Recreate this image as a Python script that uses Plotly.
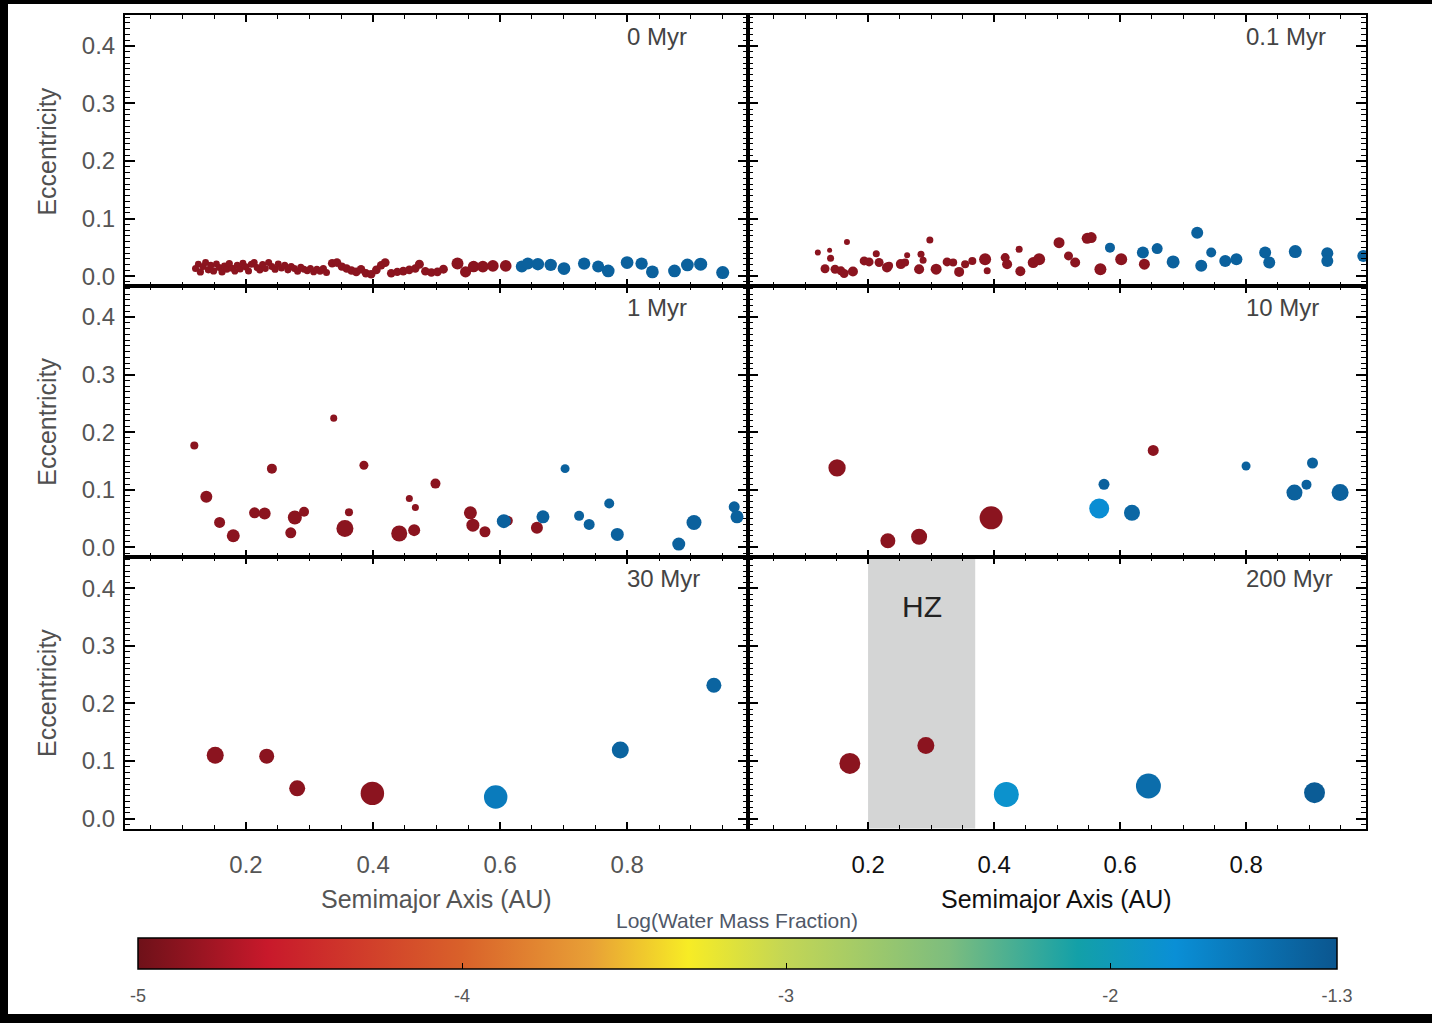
import plotly.graph_objects as go

W, H = 1432, 1023
RED_W = -4.87  # log water mass fraction of dry (red) bodies

# ---------------- 0 Myr ----------------
a0_red = [0.1205,0.1249,0.1281,0.1325,0.1363,0.1407,0.1445,0.1489,0.1534,0.1578,0.1622,0.1660,0.1698,0.1736,0.1780,0.1824,0.1862,0.1907,0.1951,0.1995,0.2039,0.2084,0.2128,0.2172,0.2217,0.2261,0.2305,0.2356,0.2406,0.2457,0.2507,0.2558,0.2609,0.2659,0.2710,0.2760,0.2811,0.2862,0.2912,0.2963,0.3013,0.3064,0.3115,0.3165,0.3216,0.3266,
          0.3355,0.3431,0.3507,0.3583,0.3659,0.3735,0.3810,0.3886,0.3969,0.4051,0.4127,0.4190,0.4285,0.4380,0.4474,0.4569,0.4664,0.4728,0.4822,0.4917,0.5012,0.5107,
          0.5328,0.5455,0.5581,0.5727,0.5885,0.6087]
e0_red = [0.0133,0.0208,0.0075,0.0167,0.0237,0.0110,0.0191,0.0092,0.0214,0.0150,0.0075,0.0179,0.0121,0.0219,0.0139,0.0087,0.0191,0.0127,0.0225,0.0162,0.0092,0.0208,0.0237,0.0150,0.0110,0.0202,0.0133,0.0237,0.0167,0.0121,0.0214,0.0144,0.0191,0.0110,0.0167,0.0133,0.0087,0.0156,0.0121,0.0098,0.0133,0.0075,0.0121,0.0087,0.0133,0.0064,
          0.0225,0.0237,0.0167,0.0133,0.0098,0.0075,0.0121,0.0052,0.0035,0.0110,0.0191,0.0237,0.0052,0.0075,0.0087,0.0110,0.0133,0.0208,0.0087,0.0064,0.0075,0.0121,
          0.0219,0.0075,0.0167,0.0167,0.0179,0.0179]
m0_red = [0.20,0.18,0.22,0.20,0.19,0.21,0.20,0.22,0.18,0.20,0.21,0.19,0.20,0.22,0.20,0.18,0.21,0.20,0.19,0.22,0.20,0.21,0.20,0.19,0.22,0.20,0.18,0.21,0.20,0.22,0.19,0.20,0.21,0.20,0.22,0.19,0.20,0.21,0.20,0.22,0.20,0.19,0.21,0.20,0.22,0.20,
          0.36,0.38,0.34,0.36,0.35,0.38,0.36,0.34,0.36,0.38,0.35,0.40,0.36,0.34,0.38,0.36,0.35,0.42,0.36,0.38,0.36,0.40,
          1.00,0.80,0.88,0.90,0.90,0.92]
a0_blue = [0.6340,0.6435,0.6593,0.6795,0.7004,0.7321,0.7542,0.7700,0.7997,0.8225,0.8395,0.8743,0.8946,0.9155,0.9502]
e0_blue = [0.0167,0.0219,0.0208,0.0196,0.0133,0.0219,0.0167,0.0092,0.0237,0.0219,0.0075,0.0092,0.0196,0.0208,0.0064]
m0_blue = [1.00,1.00,1.10,1.10,1.20,1.10,1.00,1.20,1.20,1.10,1.20,1.20,1.20,1.30,1.30]
w0_blue = [-1.40,-1.40,-1.40,-1.40,-1.40,-1.40,-1.40,-1.40,-1.40,-1.40,-1.40,-1.40,-1.40,-1.40,-1.40]

# ---------------- 0.1 Myr ----------------
a01_red = [0.1203,0.1390,0.1405,0.1317,0.1476,0.1570,0.1620,0.1665,0.1760,0.1938,0.2016,0.2130,0.2175,0.2300,0.2333,0.2520,0.2587,0.2620,0.2810,0.2840,0.2873,0.2980,0.3080,0.3254,0.3350,0.3445,0.3540,0.3654,0.3857,0.3890,0.4175,0.4206,0.4397,0.4416,0.4620,0.4714,0.5030,0.5180,0.5286,0.5476,0.5540,0.5686,0.6016,0.6384]
e01_red = [0.0410,0.0450,0.0310,0.0130,0.0121,0.0093,0.0046,0.0594,0.0080,0.0265,0.0248,0.0390,0.0237,0.0150,0.0180,0.0210,0.0237,0.0364,0.0121,0.0380,0.0277,0.0629,0.0121,0.0248,0.0237,0.0075,0.0208,0.0265,0.0294,0.0093,0.0323,0.0208,0.0468,0.0087,0.0237,0.0294,0.0583,0.0352,0.0237,0.0658,0.0670,0.0121,0.0294,0.0208]
m01_red = [0.125,0.072,0.20,0.42,0.42,0.42,0.42,0.125,0.58,0.42,0.42,0.20,0.42,0.58,0.30,0.58,0.30,0.125,0.58,0.20,0.20,0.20,0.77,0.42,0.30,0.58,0.30,0.30,1.00,0.20,0.42,0.58,0.20,0.58,0.77,1.00,0.77,0.42,0.58,0.77,0.77,1.00,1.00,0.77]
a01_blue = [0.5838,0.6360,0.6587,0.6840,0.7222,0.7286,0.7444,0.7667,0.7844,0.8300,0.8365,0.8778,0.9286,0.9286,0.9857]
e01_blue = [0.0496,0.0410,0.0480,0.0248,0.0756,0.0180,0.0410,0.0265,0.0294,0.0410,0.0237,0.0427,0.0400,0.0265,0.0352]
m01_blue = [0.58,1.00,0.77,1.27,1.00,1.00,0.58,1.00,1.00,1.00,1.00,1.27,1.00,1.00,1.00]
w01_blue = [-1.40,-1.40,-1.40,-1.40,-1.40,-1.40,-1.40,-1.40,-1.40,-1.40,-1.40,-1.40,-1.40,-1.40,-1.40]

# ---------------- 1 Myr ----------------
a1_red = [0.1186,0.1375,0.1584,0.1799,0.2134,0.2293,0.2407,0.2704,0.2768,0.2913,0.3380,0.3556,0.3620,0.3855,0.4411,0.4570,0.4646,0.4665,0.4981,0.5531,0.5570,0.5760,0.6120,0.6578]
e1_red = [0.1770,0.0878,0.0433,0.0202,0.0600,0.0589,0.1368,0.0254,0.0520,0.0618,0.2245,0.0329,0.0612,0.1426,0.0242,0.0848,0.0300,0.0693,0.1108,0.0600,0.0386,0.0272,0.0462,0.0340]
m1_red = [0.30,1.00,0.77,1.27,0.77,1.00,0.58,0.77,1.59,0.58,0.20,2.84,0.30,0.42,2.37,0.20,1.00,0.20,0.58,1.27,1.27,0.77,0.58,1.00]
a1_blue = [0.6057,0.6673,0.7021,0.7242,0.7400,0.7716,0.7843,0.8810,0.9050,0.9683,0.9727]
e1_blue = [0.0456,0.0531,0.1368,0.0548,0.0398,0.0762,0.0225,0.0057,0.0433,0.0704,0.0531]
m1_blue = [1.59,1.27,0.42,0.58,0.77,0.58,1.27,1.27,1.95,0.77,1.27]
w1_blue = [-1.40,-1.40,-1.40,-1.40,-1.40,-1.40,-1.40,-1.40,-1.40,-1.40,-1.40]

# ---------------- 10 Myr ----------------
a10_red = [0.1508,0.2314,0.2810,0.3952,0.6524]
e10_red = [0.1380,0.0116,0.0185,0.0514,0.1685]
m10_red = [3.00,1.95,2.37,7.04,0.77]
a10_blue = [0.5667,0.5743,0.6187,0.7997,0.8765,0.8956,0.9051,0.9489]
e10_blue = [0.0675,0.1096,0.0600,0.1414,0.0952,0.1090,0.1466,0.0952]
m10_blue = [4.63,0.77,2.37,0.42,2.37,0.58,0.77,2.84]
w10_blue = [-1.78,-1.40,-1.45,-1.40,-1.40,-1.40,-1.40,-1.40]

# ---------------- 30 Myr ----------------
a30_red = [0.1515,0.2325,0.2805,0.3988]
e30_red = [0.1100,0.1085,0.0525,0.0438]
m30_red = [2.84,1.95,2.37,7.50]
a30_blue = [0.5929,0.7890,0.9363]
e30_blue = [0.0375,0.1190,0.2315]
m30_blue = [7.50,2.84,1.95]
w30_blue = [-1.62,-1.42,-1.42]

# ---------------- 200 Myr ----------------
a200_red = [0.1711,0.2917]
e200_red = [0.0958,0.1270]
m200_red = [5.30,2.84]
a200_blue = [0.4194,0.6448,0.9083]
e200_blue = [0.0420,0.0566,0.0450]
m200_blue = [9.00,9.00,5.30]
w200_blue = [-1.86,-1.50,-1.35]

panel_labels = ["0 Myr", "0.1 Myr", "1 Myr", "10 Myr", "30 Myr", "200 Myr"]
hz_inner, hz_outer = 0.20, 0.37

# colorbar
cb_min, cb_max = -5.0, -1.3
cb_tickvals = [-5, -4, -3, -2, -1.3]
cb_ticktext = ["-5", "-4", "-3", "-2", "-1.3"]
cb_inner_ticks = [-4, -3, -2]

panels = [
    (a0_red, e0_red, m0_red, a0_blue, e0_blue, m0_blue, w0_blue),
    (a01_red, e01_red, m01_red, a01_blue, e01_blue, m01_blue, w01_blue),
    (a1_red, e1_red, m1_red, a1_blue, e1_blue, m1_blue, w1_blue),
    (a10_red, e10_red, m10_red, a10_blue, e10_blue, m10_blue, w10_blue),
    (a30_red, e30_red, m30_red, a30_blue, e30_blue, m30_blue, w30_blue),
    (a200_red, e200_red, m200_red, a200_blue, e200_blue, m200_blue, w200_blue),
]

colorscale = [[0.0, "#6e1119"], [0.108, "#c8192b"], [0.27, "#d9612a"], [0.378, "#e8a036"],
              [0.459, "#f7ec25"], [0.54, "#c3d655"], [0.676, "#7dbd7e"], [0.784, "#13a0a8"],
              [0.865, "#0a8fd6"], [1.0, "#0b568f"]]

def size_of(m):
    return 12.0 * m ** (1.0 / 3.0)

FONT = "Liberation Sans, Arial, Helvetica, sans-serif"
FS = 24

def px(x):
    return x / W

def py(y):
    return 1 - y / H

col_dom = [[px(125), px(748)], [px(748), px(1366)]]
row_dom = [[py(287), py(15)], [py(559), py(287)], [py(831), py(559)]]

fig = go.Figure()

for i, (ar, er, mr, ab, eb, mb, wb) in enumerate(panels):
    p = i + 1
    xs = list(ar) + list(ab)
    ys = list(er) + list(eb)
    ms = list(mr) + list(mb)
    ws = [RED_W] * len(ar) + list(wb)
    fig.add_trace(go.Scatter(
        x=xs, y=ys, mode="markers",
        xaxis="x" if p == 1 else f"x{p}", yaxis="y" if p == 1 else f"y{p}",
        marker=dict(size=[size_of(m) for m in ms], color=ws, coloraxis="coloraxis",
                    line=dict(width=0), opacity=1),
        showlegend=False, hoverinfo="x+y"))

# carrier of the second (transparent) colour bar that draws the inner tick marks
fig.add_trace(go.Scatter(
    x=[None], y=[None], mode="markers", xaxis="x6", yaxis="y6",
    marker=dict(color=[cb_min], coloraxis="coloraxis2"),
    showlegend=False, hoverinfo="skip"))

cb_common = dict(
    orientation="h", x=px((138 + 1337) / 2), xanchor="center",
    y=py(941), yanchor="top", ypad=0, xpad=0,
    len=(1337 - 138) / W, lenmode="fraction",
    thickness=31, thicknessmode="pixels",
)

layout = dict(
    width=W, height=H, autosize=False,
    margin=dict(l=0, r=0, t=0, b=0, pad=0),
    paper_bgcolor="white", plot_bgcolor="white",
    font=dict(family=FONT, color="#555555"),
    showlegend=False,
    coloraxis=dict(
        colorscale=colorscale, cmin=cb_min, cmax=cb_max,
        colorbar=dict(
            **cb_common,
            outlinecolor="black", outlinewidth=1.5,
            tickvals=cb_tickvals, ticktext=cb_ticktext,
            ticks="outside", ticklen=11, tickcolor="rgba(255,255,255,0)",
            tickfont=dict(size=18, color="#555555", family="Liberation Sans Narrow, Liberation Sans, Arial"),
        )),
    coloraxis2=dict(
        colorscale=[[0, "rgba(0,0,0,0)"], [1, "rgba(0,0,0,0)"]], cmin=cb_min, cmax=cb_max,
        colorbar=dict(
            **cb_common,
            outlinewidth=0,
            tickvals=cb_inner_ticks, showticklabels=False,
            ticks="inside", ticklen=6, tickwidth=1.2, tickcolor="black",
        )),
)

for i in range(6):
    p = i + 1
    r, c = divmod(i, 2)
    xk = "xaxis" if p == 1 else f"xaxis{p}"
    yk = "yaxis" if p == 1 else f"yaxis{p}"
    xname = "x" if p == 1 else f"x{p}"
    yname = "y" if p == 1 else f"y{p}"
    layout[xk] = dict(
        domain=col_dom[c], anchor=yname, range=[0.0095, 0.99],
        showline=True, linecolor="black", linewidth=2, mirror="ticks",
        ticks="inside", tick0=0.2, dtick=0.2, ticklen=7, tickwidth=1.5, tickcolor="black",
        minor=dict(ticks="inside", dtick=0.05, tick0=0, ticklen=4, tickwidth=1, tickcolor="black"),
        showgrid=False, zeroline=False,
        showticklabels=(r == 2), tickformat=".1f",
        ticklabelstandoff=14,
        tickfont=dict(size=FS, family=FONT, color="#555555" if c == 0 else "#111111"),
    )
    layout[yk] = dict(
        domain=row_dom[r], anchor=xname, range=[-0.0173, 0.4537],
        showline=True, linecolor="black", linewidth=2, mirror="ticks",
        ticks="inside", tick0=0, dtick=0.1, ticklen=10, tickwidth=1.5, tickcolor="black",
        minor=dict(ticks="inside", dtick=0.01, tick0=0, ticklen=5, tickwidth=1, tickcolor="black"),
        showgrid=False, zeroline=False,
        showticklabels=(c == 0), tickformat=".1f",
        ticklabelstandoff=3,
        tickfont=dict(size=FS, family=FONT, color="#555555"),
    )

annotations = []
for i, lab in enumerate(panel_labels):
    p = i + 1
    annotations.append(dict(
        text=lab, xref="x" if p == 1 else f"x{p}", yref="y" if p == 1 else f"y{p}",
        x=0.797, y=0.417, xanchor="left", yanchor="middle", showarrow=False,
        font=dict(size=FS, family=FONT, color="#444444")))

for yc in [152, 423, 695]:
    annotations.append(dict(
        text="Eccentricity", xref="paper", yref="paper", x=px(47), y=py(yc),
        xanchor="center", yanchor="middle", textangle=-90, showarrow=False,
        font=dict(size=25, family=FONT, color="#505050")))

annotations.append(dict(text="Semimajor Axis (AU)", xref="paper", yref="paper",
                        x=px(436), y=py(902), xanchor="center", yanchor="middle", showarrow=False,
                        font=dict(size=25, family=FONT, color="#555555")))
annotations.append(dict(text="Semimajor Axis (AU)", xref="paper", yref="paper",
                        x=px(1056), y=py(902), xanchor="center", yanchor="middle", showarrow=False,
                        font=dict(size=25, family=FONT, color="#111111")))
annotations.append(dict(text="Log(Water Mass Fraction)", xref="paper", yref="paper",
                        x=px(737), y=py(923), xanchor="center", yanchor="middle", showarrow=False,
                        font=dict(size=21, family=FONT, color="#505868")))
annotations.append(dict(text="HZ", xref="x6", yref="y6",
                        x=(hz_inner + hz_outer) / 2, y=0.369, xanchor="center", yanchor="middle",
                        showarrow=False, font=dict(size=30, family=FONT, color="#222222")))

shapes = [
    dict(type="rect", xref="x6", yref="y6 domain", x0=hz_inner, x1=hz_outer, y0=0, y1=1,
         fillcolor="#d4d5d5", line=dict(width=0), layer="below"),
    # black photo frame
    dict(type="rect", xref="paper", yref="paper", x0=0, x1=1, y0=py(4), y1=1.01,
         fillcolor="black", line=dict(width=0), layer="above"),
    dict(type="rect", xref="paper", yref="paper", x0=-0.01, x1=px(8), y0=-0.01, y1=1.01,
         fillcolor="black", line=dict(width=0), layer="above"),
    dict(type="rect", xref="paper", yref="paper", x0=0, x1=1, y0=-0.01, y1=py(1017),
         fillcolor="black", line=dict(width=0), layer="above"),
]

layout["annotations"] = annotations
layout["shapes"] = shapes
fig.update_layout(**layout)

fig.write_html("out.html")
